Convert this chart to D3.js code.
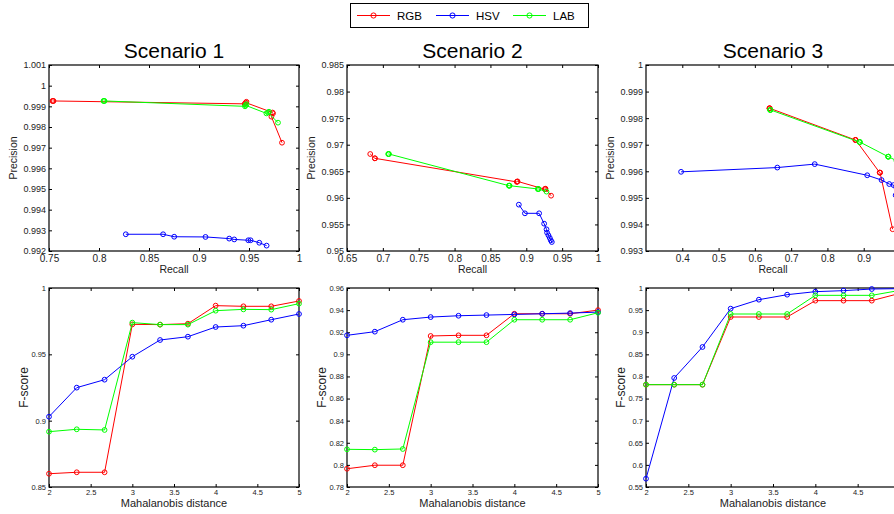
<!DOCTYPE html>
<html>
<head>
<meta charset="utf-8">
<script src="https://cdn.jsdelivr.net/npm/d3@7"></script>
<style>
  body { margin: 0; background: #fff; }
  text { font-family: "Liberation Sans", Arial, sans-serif; }
</style>
</head>
<body>
<svg id="chart" width="894" height="514"></svg>
<script>
// mahalanobis distance thresholds (x of the F-score plots)
var distances = [2, 2.333, 2.667, 3, 3.333, 3.667, 4, 4.333, 4.667, 5];
var methods = ["RGB", "HSV", "LAB"];
var colors = ["#ff0000", "#0000ff", "#00ff00"];
var titles = ["Scenario 1", "Scenario 2", "Scenario 3"];

// Scenario 1 precision / recall
var s1RgbRecall = [0.7535, 0.754, 0.7545, 0.9457, 0.9474, 0.9468, 0.9735, 0.974, 0.9724, 0.983];
var s1RgbPrecision = [0.99926, 0.99926, 0.99926, 0.99912, 0.99922, 0.99918, 0.9987, 0.99866, 0.9985, 0.99724];
var s1HsvRecall = [0.8268, 0.8641, 0.8752, 0.9065, 0.9302, 0.9352, 0.9493, 0.9516, 0.9603, 0.9676];
var s1HsvPrecision = [0.99281, 0.99281, 0.99269, 0.99268, 0.9926, 0.99256, 0.99252, 0.99252, 0.9924, 0.99226];
var s1LabRecall = [0.8045, 0.805, 0.8055, 0.946, 0.9474, 0.9465, 0.9674, 0.97, 0.969, 0.979];
var s1LabPrecision = [0.99926, 0.99926, 0.99926, 0.999, 0.9991, 0.99905, 0.99866, 0.99874, 0.9987, 0.99821];

// Scenario 2
var s2RgbRecall = [0.6824, 0.6889, 0.6889, 0.8868, 0.8873, 0.8878, 0.9258, 0.9263, 0.9268, 0.9346];
var s2RgbPrecision = [0.96825, 0.96744, 0.96744, 0.963, 0.96305, 0.9631, 0.96162, 0.96167, 0.96172, 0.96041];
var s2HsvRecall = [0.8896, 0.8981, 0.9179, 0.9249, 0.9282, 0.929, 0.9309, 0.9328, 0.9342, 0.9356];
var s2HsvPrecision = [0.95872, 0.95709, 0.95709, 0.95514, 0.95408, 0.95345, 0.95295, 0.95245, 0.952, 0.95169];
var s2LabRecall = [0.7075, 0.708, 0.7085, 0.8757, 0.8762, 0.8767, 0.9161, 0.9166, 0.9171, 0.9282];
var s2LabPrecision = [0.96825, 0.96825, 0.96825, 0.96229, 0.96229, 0.96229, 0.96167, 0.96167, 0.96167, 0.96117];

// Scenario 3
var s3RgbRecall = [0.6401, 0.6406, 0.6411, 0.8768, 0.8773, 0.8778, 0.944, 0.9445, 0.945, 0.9796];
var s3RgbPrecision = [0.99837, 0.99837, 0.99837, 0.99718, 0.99718, 0.99718, 0.99595, 0.99595, 0.99595, 0.99382];
var s3HsvRecall = [0.3967, 0.6619, 0.765, 0.9097, 0.9492, 0.9704, 0.9823, 0.988, 0.994, 0.997];
var s3HsvPrecision = [0.99598, 0.99614, 0.99627, 0.99585, 0.99567, 0.99552, 0.99548, 0.9951, 0.9949, 0.9947];
var s3LabRecall = [0.642, 0.6425, 0.643, 0.8885, 0.889, 0.8895, 0.9672, 0.9677, 0.9682, 0.99];
var s3LabPrecision = [0.99831, 0.99831, 0.99831, 0.9971, 0.9971, 0.9971, 0.99655, 0.99655, 0.99655, 0.9964];

// F-scores
var s1RgbF = [0.86, 0.8611, 0.8611, 0.9726, 0.9724, 0.9731, 0.9867, 0.9862, 0.9862, 0.9902];
var s1HsvF = [0.903, 0.9249, 0.9309, 0.9482, 0.9608, 0.9633, 0.9706, 0.9716, 0.9761, 0.9804];
var s1LabF = [0.8917, 0.8935, 0.893, 0.9739, 0.9724, 0.9724, 0.9829, 0.9839, 0.9837, 0.9882];
var s2RgbF = [0.7965, 0.7997, 0.7997, 0.9166, 0.9172, 0.9172, 0.9367, 0.9367, 0.9367, 0.94];
var s2HsvF = [0.9172, 0.9205, 0.9313, 0.9337, 0.9349, 0.9355, 0.9361, 0.9367, 0.9373, 0.9382];
var s2LabF = [0.8141, 0.8138, 0.8144, 0.911, 0.911, 0.911, 0.9313, 0.9313, 0.9313, 0.9376];
var s3RgbF = [0.7814, 0.7814, 0.7814, 0.9344, 0.9344, 0.9344, 0.9714, 0.9714, 0.9714, 0.988];
var s3HsvF = [0.5688, 0.7965, 0.8666, 0.9533, 0.9736, 0.9849, 0.9917, 0.994, 0.9977, 0.9985];
var s3LabF = [0.7814, 0.7814, 0.7814, 0.9412, 0.9412, 0.9412, 0.9834, 0.9834, 0.9834, 0.9947];

// tick labels
var prTicksX = [
  ["0.75", "0.8", "0.85", "0.9", "0.95", "1"],
  ["0.65", "0.7", "0.75", "0.8", "0.85", "0.9", "0.95", "1"],
  ["0.4", "0.5", "0.6", "0.7", "0.8", "0.9", "1"]
];
var prTicksY = [
  ["0.992", "0.993", "0.994", "0.995", "0.996", "0.997", "0.998", "0.999", "1", "1.001"],
  ["0.95", "0.955", "0.96", "0.965", "0.97", "0.975", "0.98", "0.985"],
  ["0.993", "0.994", "0.995", "0.996", "0.997", "0.998", "0.999", "1"]
];
var fTicksX = ["2", "2.5", "3", "3.5", "4", "4.5", "5"];
var fTicksY = [
  ["0.85", "0.9", "0.95", "1"],
  ["0.78", "0.8", "0.82", "0.84", "0.86", "0.88", "0.9", "0.92", "0.94", "0.96"],
  ["0.55", "0.6", "0.65", "0.7", "0.75", "0.8", "0.85", "0.9", "0.95", "1"]
];
var prDomX = [[0.75, 1], [0.65, 1], [0.3, 1]];
var prDomY = [[0.992, 1.001], [0.95, 0.985], [0.993, 1]];
var fDomY = [[0.85, 1], [0.78, 0.96], [0.55, 1]];

var recall = [[s1RgbRecall, s1HsvRecall, s1LabRecall], [s2RgbRecall, s2HsvRecall, s2LabRecall], [s3RgbRecall, s3HsvRecall, s3LabRecall]];
var precision = [[s1RgbPrecision, s1HsvPrecision, s1LabPrecision], [s2RgbPrecision, s2HsvPrecision, s2LabPrecision], [s3RgbPrecision, s3HsvPrecision, s3LabPrecision]];
var fscore = [[s1RgbF, s1HsvF, s1LabF], [s2RgbF, s2HsvF, s2LabF], [s3RgbF, s3HsvF, s3LabF]];

var svg = d3.select("#chart");
var W = 894;
var lefts = [49, 347, 646];
var widths = [250, 251, 254];
var topY = [65, 251];
var botY = [288, 487];

function drawPanel(left, w, y0, y1, xs, ys, xTicks, yTicks, xFont, yFont, xPad, seriesX, seriesY) {
  var g = svg.append("g");
  var x = d3.scaleLinear().domain(xs).range([left, left + w]);
  var y = d3.scaleLinear().domain(ys).range([y1, y0]);

  var xv = xTicks.map(Number), yv = yTicks.map(Number);
  // ticks pointing inwards, on all four sides
  var ax = g.append("g").attr("transform", "translate(0," + y1 + ")")
    .call(d3.axisBottom(x).tickValues(xv).tickSizeInner(-3).tickSizeOuter(0).tickPadding(xPad)
      .tickFormat(function(d, i) { return xTicks[i]; }));
  ax.selectAll("text").style("font-size", xFont + "px").attr("fill", "#222");
  // labels that fall past the picture's right edge are cropped in the original
  ax.selectAll(".tick").filter(function(d) { return x(d) > W - 3; }).select("text").remove();
  g.append("g").attr("transform", "translate(0," + y0 + ")")
    .call(d3.axisTop(x).tickValues(xv).tickSizeInner(-3).tickSizeOuter(0).tickFormat(""));
  var ay = g.append("g").attr("transform", "translate(" + left + ",0)")
    .call(d3.axisLeft(y).tickValues(yv).tickSizeInner(-3).tickSizeOuter(0).tickPadding(3)
      .tickFormat(function(d, i) { return yTicks[i]; }));
  ay.selectAll("text").style("font-size", yFont + "px").attr("fill", "#222");
  g.append("g").attr("transform", "translate(" + (left + w) + ",0)")
    .call(d3.axisRight(y).tickValues(yv).tickSizeInner(-3).tickSizeOuter(0).tickFormat(""));
  g.selectAll(".domain").remove();
  g.selectAll(".tick line").attr("stroke", "#000");

  g.append("rect")
    .attr("x", left).attr("y", y0)
    .attr("width", w).attr("height", y1 - y0)
    .attr("fill", "none").attr("stroke", "#000").attr("stroke-width", 1.2);

  var line = d3.line().x(function(d) { return x(d[0]); }).y(function(d) { return y(d[1]); });
  for (var k = 0; k < 3; k++) {
    var pts = seriesX[k].map(function(v, i) { return [v, seriesY[k][i]]; });
    g.append("path").datum(pts)
      .attr("d", line).attr("fill", "none")
      .attr("stroke", colors[k]).attr("stroke-width", 1);
    g.selectAll(".m" + k).data(pts).enter().append("circle")
      .attr("cx", function(d) { return x(d[0]); })
      .attr("cy", function(d) { return y(d[1]); })
      .attr("r", 2.4).attr("fill", "none")
      .attr("stroke", colors[k]).attr("stroke-width", 1);
  }
  return g;
}

for (var s = 0; s < 3; s++) {
  var left = lefts[s];
  var w = widths[s];
  // precision / recall
  drawPanel(left, w, topY[0], topY[1], prDomX[s], prDomY[s], prTicksX[s], prTicksY[s], 10, 9, 4,
    recall[s], precision[s]);
  svg.append("text").attr("x", left + w / 2).attr("y", 58)
    .attr("text-anchor", "middle").style("font-size", "21px").text(titles[s]);
  svg.append("text").attr("x", left + w / 2).attr("y", 273)
    .attr("text-anchor", "middle").style("font-size", "10.5px").attr("fill", "#222").text("Recall");
  svg.append("text").attr("transform", "translate(" + (left - 32) + "," + (topY[0] + topY[1]) / 2 + ") rotate(-90)")
    .attr("text-anchor", "middle").style("font-size", "10.5px").attr("fill", "#222").text("Precision");

  // F-score
  var dists = [distances, distances, distances];
  drawPanel(left, w, botY[0], botY[1], [2, 5], fDomY[s], fTicksX, fTicksY[s], 7.5, 7.5, 2.5,
    dists, fscore[s]);
  svg.append("text").attr("x", left + w / 2).attr("y", 507)
    .attr("text-anchor", "middle").style("font-size", "11px").attr("fill", "#222").text("Mahalanobis distance");
  svg.append("text").attr("transform", "translate(" + (left - 21) + "," + (botY[0] + botY[1]) / 2 + ") rotate(-90)")
    .attr("text-anchor", "middle").style("font-size", "12px").attr("fill", "#222").text("F-score");
}

// legend
var legend = svg.append("g");
legend.append("rect").attr("x", 350.5).attr("y", 3.5).attr("width", 238).attr("height", 24)
  .attr("fill", "#fff").attr("stroke", "#000").attr("stroke-width", 1);
var legX = [357, 436, 513];
methods.forEach(function(m, i) {
  legend.append("line").attr("x1", legX[i]).attr("x2", legX[i] + 33)
    .attr("y1", 15.5).attr("y2", 15.5).attr("stroke", colors[i]).attr("stroke-width", 1);
  legend.append("circle").attr("cx", legX[i] + 16.5).attr("cy", 15.5).attr("r", 2.6)
    .attr("fill", "none").attr("stroke", colors[i]).attr("stroke-width", 1);
  legend.append("text").attr("x", legX[i] + 40).attr("y", 19.5)
    .style("font-size", "11.5px").text(m);
});
</script>
</body>
</html>
